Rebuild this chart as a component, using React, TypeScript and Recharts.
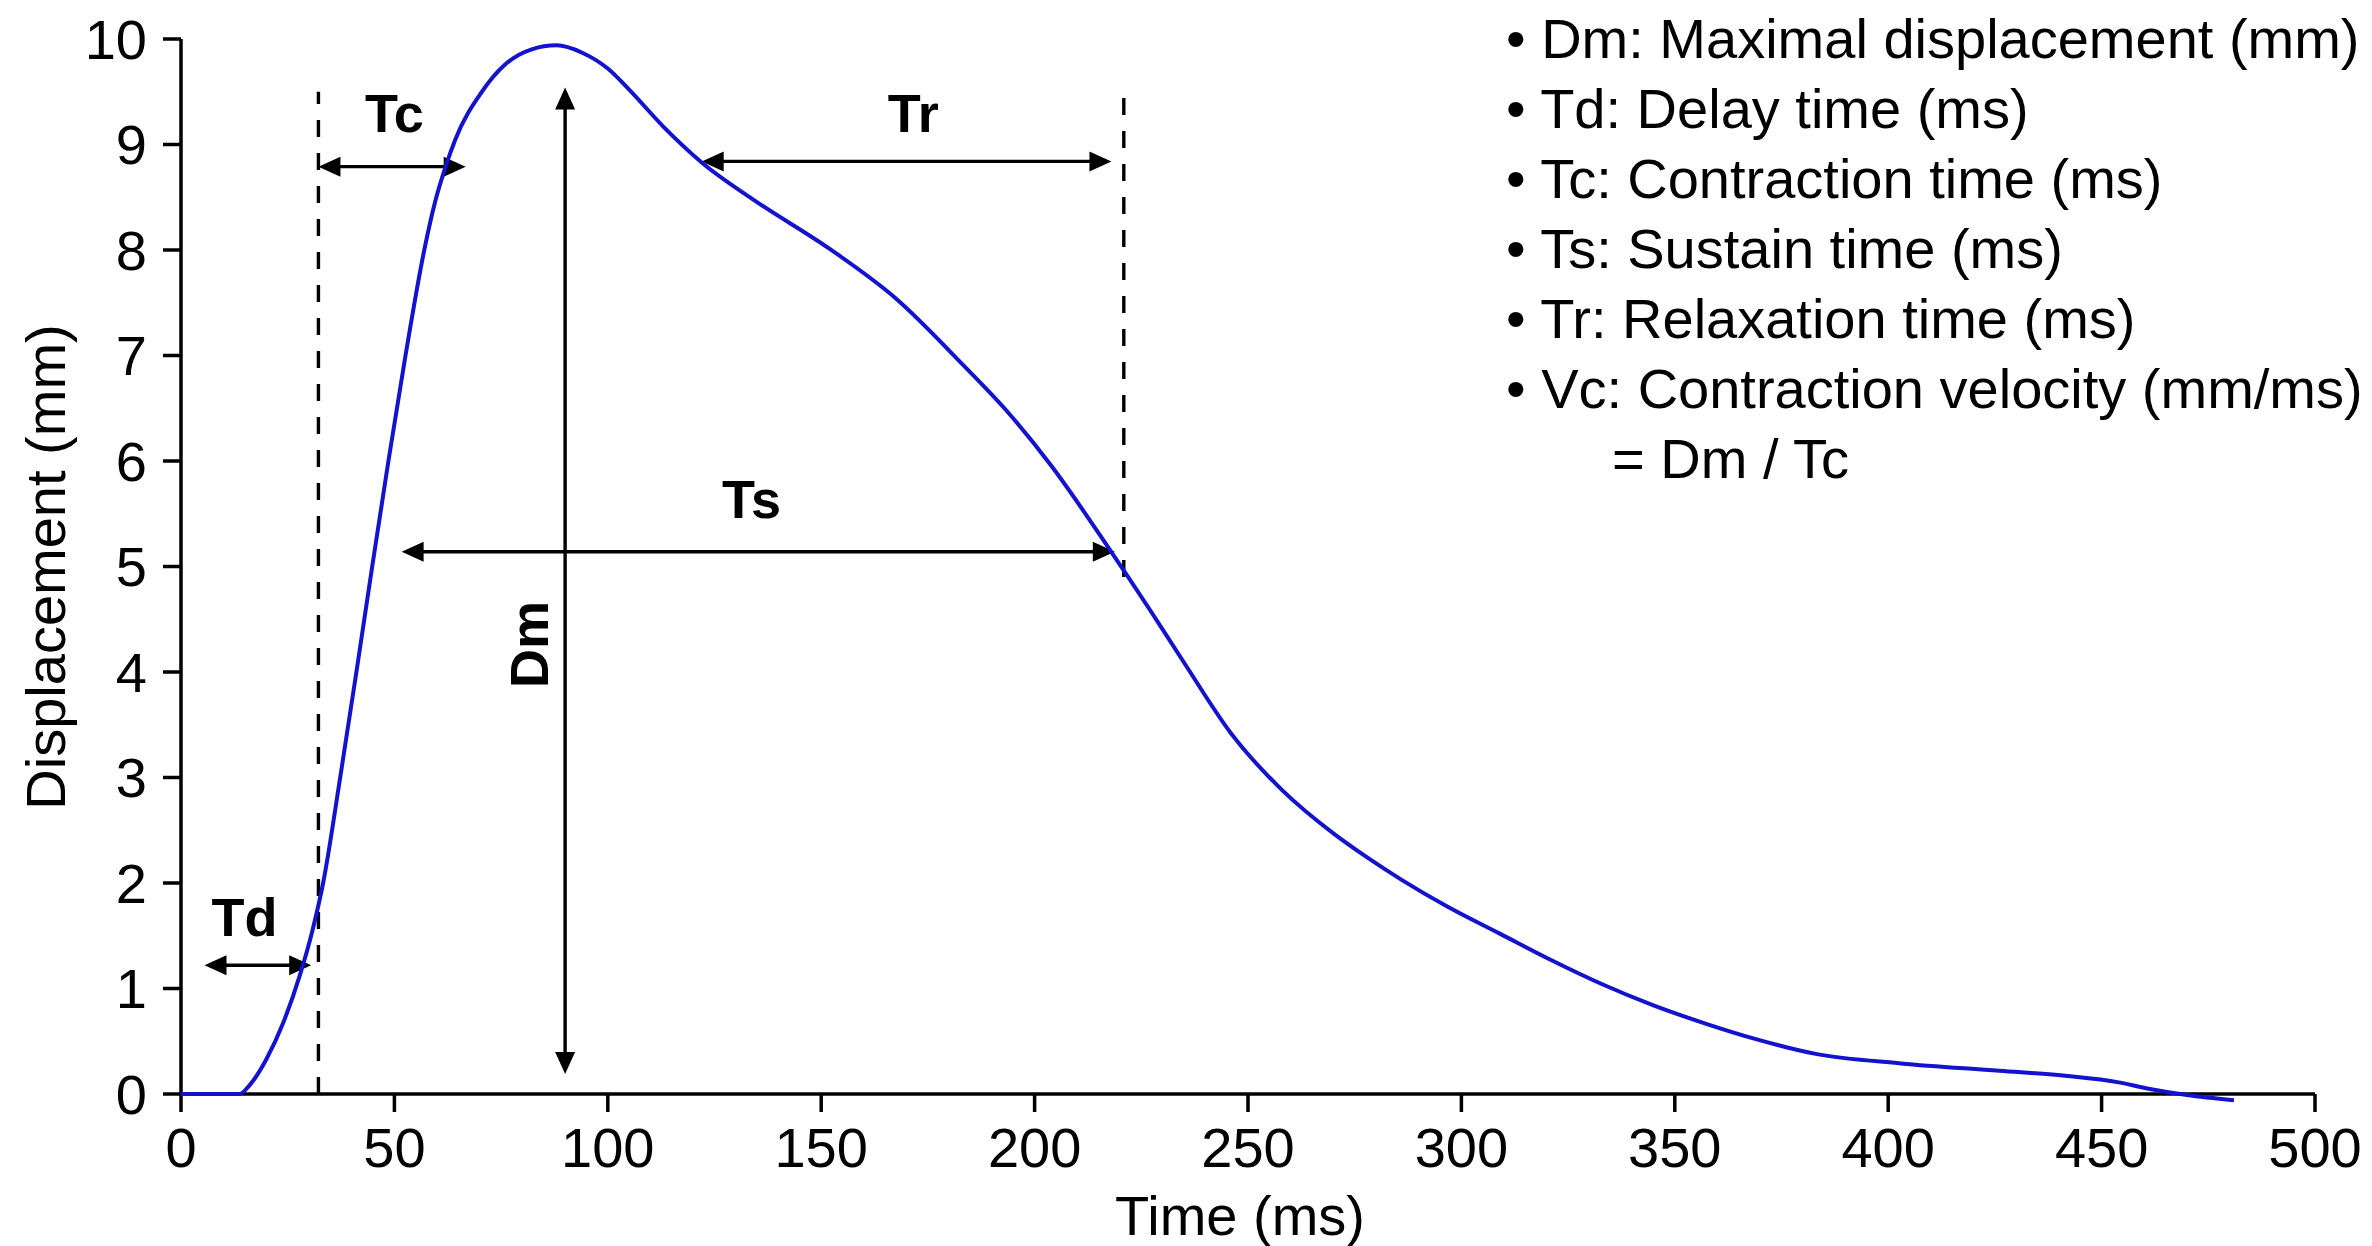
import { LineChart, Line, XAxis, YAxis, ReferenceLine, ReferenceDot } from 'recharts'

const FONT = '"Liberation Sans", Arial, Helvetica, sans-serif'

// twitch curve
const timeMs = [
  0, 13.7, 16, 20, 24, 27.8, 30.8, 33.3, 37.3, 41.1, 44.8, 48.6, 52.6, 57, 59.5, 62, 64.3, 70.5, 76, 82, 88,
  94, 100, 105, 113, 122, 134, 152, 167.5, 183, 194, 204, 217.6, 227, 235, 246, 258, 270, 278, 286, 297,
  309, 321, 333, 345, 357, 369, 383, 403, 426, 442, 454, 461, 470, 481,
]
const displacement = [
  0, 0, 0.08, 0.33, 0.68, 1.12, 1.55, 2.0, 3.0, 4.0, 5.0, 6.0, 7.0, 8.0, 8.45, 8.79, 9.05, 9.5, 9.76, 9.9, 9.94,
  9.87, 9.72, 9.52, 9.17, 8.83, 8.48, 8.01, 7.54, 6.92, 6.45, 5.95, 5.16, 4.59, 4.09, 3.42, 2.88, 2.47, 2.24, 2.03, 1.77,
  1.52, 1.27, 1.04, 0.84, 0.67, 0.52, 0.38, 0.29, 0.22, 0.17, 0.11, 0.05, -0.01, -0.06,
]

const xTicks = [0, 50, 100, 150, 200, 250, 300, 350, 400, 450, 500]
const yTicks = [0, 1, 2, 3, 4, 5, 6, 7, 8, 9, 10]

// dashed markers
const dashX = [32.2, 220.9]
const dashFrom = [0, 4.9]
const dashTo = [9.5, 9.57]

// double arrows: Td, Tc, Ts, Tr, Dm
const arrowFromX = [5.5, 32.2, 51.7, 122, 90]
const arrowFromY = [1.22, 8.79, 5.14, 8.84, 0.19]
const arrowToX = [30.5, 66.7, 218.8, 218, 90]
const arrowToY = [1.22, 8.79, 5.14, 8.84, 9.54]

const labelText = ['Td', 'Tc', 'Ts', 'Tr', 'Dm']
const labelX = [14.9, 50, 133.7, 171.6, 81.4]
const labelY = [1.68, 9.3, 5.64, 9.3, 4.26]
const labelRotated = [false, false, false, false, true]

const legendLines = [
  '• Dm: Maximal displacement (mm)',
  '• Td: Delay time (ms)',
  '• Tc: Contraction time (ms)',
  '• Ts: Sustain time (ms)',
  '• Tr: Relaxation time (ms)',
  '• Vc: Contraction velocity (mm/ms)',
]
const legendTail = '= Dm / Tc'

const data = timeMs.map((t, i) => ({ t, v: displacement[i] }))

function DoubleArrow(p: any) {
  const { x1, y1, x2, y2 } = p
  const dx = x2 - x1
  const dy = y2 - y1
  const len = Math.hypot(dx, dy) || 1
  const ux = dx / len
  const uy = dy / len
  const px = -uy
  const py = ux
  const L = 22
  const W = 10
  const head = (tx: number, ty: number, dx2: number, dy2: number) => {
    const bx = tx - dx2 * L
    const by = ty - dy2 * L
    return `${tx},${ty} ${bx + px * W},${by + py * W} ${bx - px * W},${by - py * W}`
  }
  return (
    <g>
      <line
        x1={x1 + ux * L * 0.7}
        y1={y1 + uy * L * 0.7}
        x2={x2 - ux * L * 0.7}
        y2={y2 - uy * L * 0.7}
        stroke="#000"
        strokeWidth={3.4}
      />
      <polygon points={head(x2, y2, ux, uy)} fill="#000" />
      <polygon points={head(x1, y1, -ux, -uy)} fill="#000" />
    </g>
  )
}

function DashLine(p: any) {
  return (
    <line
      x1={p.x1}
      y1={p.y1}
      x2={p.x2}
      y2={p.y2}
      stroke="#000"
      strokeWidth={3.4}
      strokeDasharray="17 16"
    />
  )
}

function makeLabel(text: string, rotated: boolean) {
  return (p: any) => (
    <text
      x={p.cx}
      y={p.cy}
      dy="0.36em"
      textAnchor="middle"
      fontFamily={FONT}
      fontWeight="bold"
      fontSize={54}
      fill="#000"
      transform={rotated ? `rotate(-90 ${p.cx} ${p.cy})` : undefined}
    >
      {text}
    </text>
  )
}

const tickStyle = { fontSize: 56, fill: '#000', fontFamily: FONT }
const lineStyle = { stroke: '#000', strokeWidth: 3.5 }

export default function App() {
  return (
    <div
      style={{
        position: 'absolute',
        left: 0,
        top: 0,
        width: 2372,
        height: 1246,
        background: '#fff',
        fontFamily: FONT,
      }}
    >
      <style>
        {'.recharts-line, .recharts-line *, .recharts-line-curve { clip-path: none !important; }'}
      </style>
      <LineChart
        width={2372}
        height={1246}
        data={data}
        margin={{ top: 39, right: 57, bottom: 0, left: 0 }}
      >
        <XAxis
          dataKey="t"
          type="number"
          domain={[0, 500]}
          ticks={xTicks}
          interval={0}
          height={152}
          tick={tickStyle}
          tickSize={18}
          tickMargin={15}
          axisLine={lineStyle}
          tickLine={lineStyle}
        />
        <YAxis
          type="number"
          domain={[0, 10]}
          ticks={yTicks}
          interval={0}
          allowDataOverflow
          width={181}
          tick={tickStyle}
          tickSize={18}
          tickMargin={16}
          axisLine={lineStyle}
          tickLine={lineStyle}
        />
        {dashX.map((x, i) => (
          <ReferenceLine
            key={`d${i}`}
            segment={[
              { x, y: dashFrom[i] },
              { x, y: dashTo[i] },
            ]}
            shape={DashLine}
          />
        ))}
        {arrowFromX.map((x, i) => (
          <ReferenceLine
            key={`a${i}`}
            segment={[
              { x, y: arrowFromY[i] },
              { x: arrowToX[i], y: arrowToY[i] },
            ]}
            shape={DoubleArrow}
          />
        ))}
        {labelText.map((txt, i) => (
          <ReferenceDot
            key={`l${i}`}
            x={labelX[i]}
            y={labelY[i]}
            r={0}
            shape={makeLabel(txt, labelRotated[i])}
          />
        ))}
        <Line
          type="monotone"
          dataKey="v"
          stroke="#1212cf"
          strokeWidth={4}
          dot={false}
          activeDot={false}
          isAnimationActive={false}
          zIndex={1000}
        />
      </LineChart>
      <svg
        width={2372}
        height={1246}
        style={{ position: 'absolute', left: 0, top: 0, pointerEvents: 'none' }}
      >
        <text x={1240} y={1235} textAnchor="middle" fontFamily={FONT} fontSize={56} fill="#000">
          Time (ms)
        </text>
        <text
          x={65}
          y={567}
          textAnchor="middle"
          fontFamily={FONT}
          fontSize={56}
          fill="#000"
          transform="rotate(-90 65 567)"
        >
          Displacement (mm)
        </text>
        {legendLines.map((s, i) => (
          <text key={s} x={1506} y={58 + 70 * i} fontFamily={FONT} fontSize={56} fill="#000">
            {s}
          </text>
        ))}
        <text x={1612} y={478} fontFamily={FONT} fontSize={56} fill="#000">
          {legendTail}
        </text>
      </svg>
    </div>
  )
}
